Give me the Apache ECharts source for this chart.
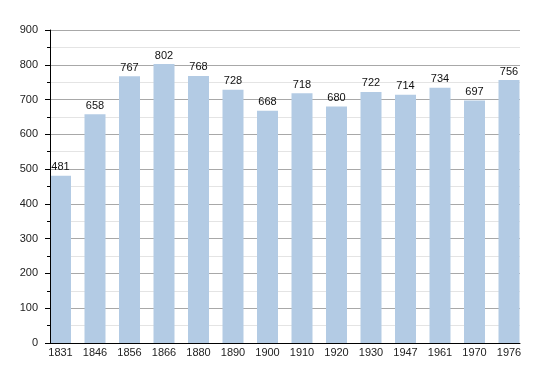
<!DOCTYPE html>
<html>
<head>
<meta charset="utf-8">
<script src="https://cdn.jsdelivr.net/npm/echarts@6/dist/echarts.min.js"></script>
<style>html,body{margin:0;padding:0;background:#fff}#c{width:550px;height:373px}</style>
</head>
<body>
<div id="c"></div>
<script>
var years = ['1831','1846','1856','1866','1880','1890','1900','1910','1920','1930','1947','1961','1970','1976'];
var population = [481,658,767,802,768,728,668,718,680,722,714,734,697,756];
var yTicks = [0,100,200,300,400,500,600,700,800,900];

var chart = echarts.init(document.getElementById('c'), null, {renderer:'canvas'});
var font = 'Liberation Sans, Arial, sans-serif';
var yMin = yTicks[0], yMax = yTicks[yTicks.length-1];
chart.setOption({
  animation: false,
  backgroundColor: '#fff',
  grid: [
    {left: 50, right: 30, top: 30, bottom: 30},
    {left: 43.25, right: 23.75, top: 30, bottom: 30}
  ],
  xAxis: [
    {gridIndex: 0, type: 'value', min: 0, max: 1, z: 5,
     axisLine: {show: true, lineStyle: {color: '#000', width: 1}},
     axisTick: {show: false}, axisLabel: {show: false}, splitLine: {show: false}},
    {gridIndex: 1, type: 'category', data: years,
     axisLine: {show: false}, axisTick: {show: false}, splitLine: {show: false},
     axisLabel: {fontFamily: font, fontSize: 11, color: '#222', margin: 4}}
  ],
  yAxis: [
    {gridIndex: 0, type: 'value', min: yMin, max: yMax, interval: 100, z: 5,
     axisLine: {show: true, lineStyle: {color: '#000', width: 1}},
     axisTick: {show: true, length: 5, lineStyle: {color: '#000'}},
     minorTick: {show: true, splitNumber: 2, length: 3, lineStyle: {color: '#000'}},
     axisLabel: {fontFamily: font, fontSize: 11, color: '#222', margin: 12},
     splitLine: {show: false}, minorSplitLine: {show: false}},
    {gridIndex: 1, type: 'value', min: yMin, max: yMax, show: false,
     splitLine: {show: false}},
    {gridIndex: 0, type: 'value', min: yMin, max: yMax, interval: 100, z: 0,
     axisLine: {show: false}, axisTick: {show: false}, axisLabel: {show: false},
     minorTick: {show: false, splitNumber: 2},
     splitLine: {show: true, lineStyle: {color: '#a8a8a8', width: 1}},
     minorSplitLine: {show: true, lineStyle: {color: '#e4e4e4', width: 1}}}
  ],
  series: [{
    type: 'bar', xAxisIndex: 1, yAxisIndex: 1,
    data: population, barWidth: 21, z: 2,
    itemStyle: {color: '#b3cbe4'},
    label: {show: true, position: 'top', distance: 3, fontFamily: font, fontSize: 11, color: '#111'}
  }]
});
</script>
</body>
</html>
